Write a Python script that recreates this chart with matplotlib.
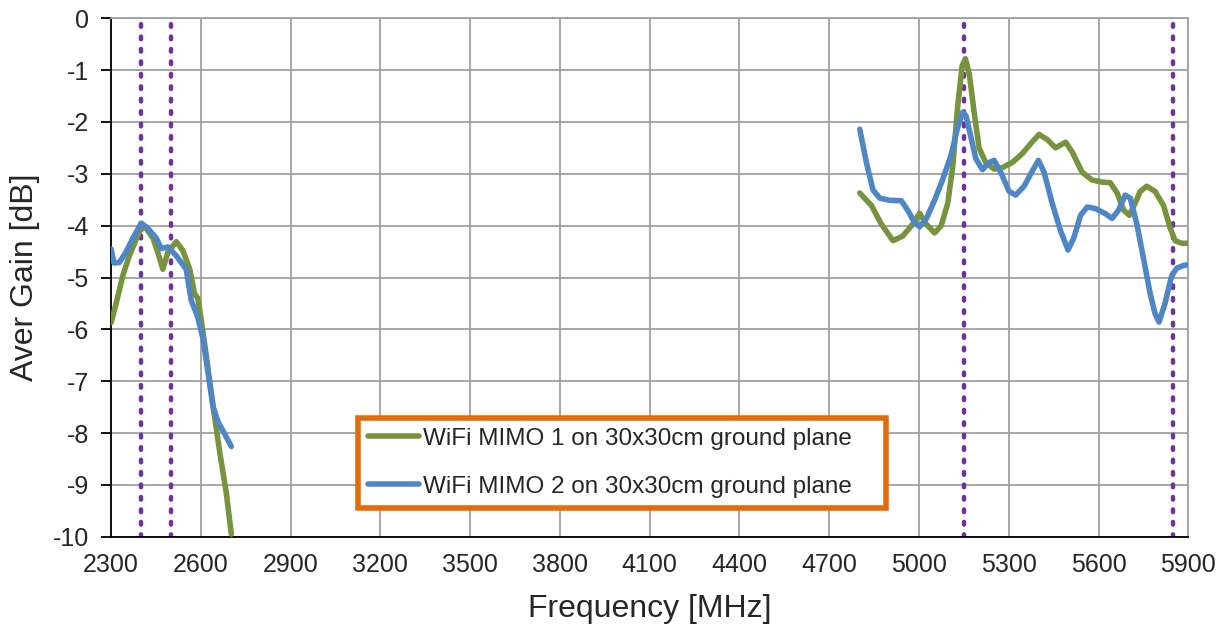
import matplotlib
matplotlib.use("Agg")
import matplotlib.pyplot as plt

plt.rcParams['font.family'] = ['Liberation Sans', 'DejaVu Sans']
plt.rcParams['axes.unicode_minus'] = False

# MIMO 1 (green), low band
f1_low = [2300, 2317, 2339, 2361, 2395, 2412, 2440, 2456, 2473, 2490, 2518, 2540,
          2563, 2579, 2590, 2602, 2618, 2641, 2663, 2685, 2702]
g1_low = [-5.87, -5.5, -4.97, -4.58, -4.11, -4.01, -4.24, -4.51, -4.84, -4.51, -4.31, -4.48,
          -4.84, -5.31, -5.4, -5.84, -6.5, -7.49, -8.36, -9.15, -9.95]

# MIMO 2 (blue), low band
f2_low = [2300, 2310, 2328, 2350, 2373, 2401, 2423, 2451, 2468, 2490, 2518, 2551,
          2568, 2590, 2607, 2624, 2641, 2658, 2680, 2702]
g2_low = [-4.45, -4.72, -4.71, -4.51, -4.24, -3.95, -4.05, -4.24, -4.44, -4.41, -4.58, -4.84,
          -5.44, -5.77, -6.17, -6.83, -7.49, -7.79, -8.02, -8.26]

# MIMO 1 (green), high band
f1_high = [4802, 4841, 4874, 4913, 4946, 4979, 5002, 5024, 5052, 5074, 5096, 5113, 5129,
           5144, 5155, 5168, 5185, 5201, 5223, 5251, 5279, 5312, 5345, 5379, 5401, 5429,
           5456, 5490, 5512, 5545, 5578, 5612, 5639, 5662, 5684, 5703, 5722, 5739, 5761,
           5789, 5817, 5839, 5856, 5878, 5900]
g1_high = [-3.37, -3.61, -3.97, -4.29, -4.2, -3.97, -3.76, -3.97, -4.14, -4.0, -3.57, -2.84, -1.71,
           -0.92, -0.78, -1.08, -1.85, -2.51, -2.78, -2.91, -2.88, -2.78, -2.61, -2.38, -2.24, -2.34,
           -2.5, -2.39, -2.58, -2.97, -3.12, -3.16, -3.17, -3.37, -3.7, -3.8, -3.57, -3.34, -3.24,
           -3.34, -3.61, -4.04, -4.29, -4.34, -4.34]

# MIMO 2 (blue), high band
f2_high = [4802, 4824, 4846, 4869, 4902, 4941, 4963, 4985, 5002, 5024, 5052, 5079, 5107, 5129,
           5146, 5157, 5174, 5190, 5212, 5235, 5251, 5273, 5301, 5323, 5351, 5379, 5399, 5418,
           5445, 5473, 5498, 5517, 5540, 5562, 5589, 5623, 5645, 5667, 5689, 5706, 5728, 5750,
           5772, 5789, 5802, 5822, 5844, 5861, 5883, 5900]
g2_high = [-2.14, -2.78, -3.31, -3.47, -3.51, -3.52, -3.71, -3.94, -4.02, -3.87, -3.51, -3.11, -2.64, -2.11,
           -1.81, -1.88, -2.31, -2.71, -2.92, -2.78, -2.74, -2.97, -3.34, -3.41, -3.24, -2.94, -2.74, -2.97,
           -3.57, -4.1, -4.47, -4.24, -3.8, -3.64, -3.67, -3.77, -3.86, -3.7, -3.41, -3.47, -3.97, -4.63,
           -5.3, -5.7, -5.86, -5.5, -4.97, -4.82, -4.77, -4.75]

band_edges = [2400, 2500, 5150, 5850]
x_ticks = list(range(2300, 5901, 300))
y_ticks = list(range(-10, 1))

green = '#77933C'
blue = '#4F86C6'
text_col = '#262626'

fig = plt.figure(figsize=(12.27, 6.3), dpi=100)
ax = fig.add_axes([0.0905, 0.148, 0.878, 0.823])

for f in band_edges:
    ax.axvline(f, color='#7030A0', linestyle=(0, (0.6, 2.2)), linewidth=3.2,
               dash_capstyle='round', zorder=2)

ax.plot(f1_low, g1_low, color=green, linewidth=4, solid_capstyle='round', zorder=3,
        label='WiFi MIMO 1 on 30x30cm ground plane')
ax.plot(f1_high, g1_high, color=green, linewidth=4, solid_capstyle='round', zorder=3)
ax.plot(f2_low, g2_low, color=blue, linewidth=4, solid_capstyle='round', zorder=4,
        label='WiFi MIMO 2 on 30x30cm ground plane')
ax.plot(f2_high, g2_high, color=blue, linewidth=4, solid_capstyle='round', zorder=4)

ax.set_xlim(2300, 5900)
ax.set_ylim(-10, 0)
ax.set_xticks(x_ticks)
ax.set_yticks(y_ticks)
ax.grid(True, color='#A0A0A0', linewidth=1.3)
ax.set_axisbelow(True)
ax.tick_params(axis='y', labelsize=18, length=7, width=1.3, pad=9, color='black',
               labelcolor=text_col)
ax.tick_params(axis='x', labelsize=18, length=0, pad=12, labelcolor=text_col)
for s in ['top', 'right']:
    ax.spines[s].set_color('#A0A0A0')
    ax.spines[s].set_linewidth(1.3)
for s in ['left', 'bottom']:
    ax.spines[s].set_color('black')
    ax.spines[s].set_linewidth(1.3)

ax.set_xlabel('Frequency [MHz]', fontsize=23, labelpad=12, color=text_col)
ax.set_ylabel('Aver Gain [dB]', fontsize=23, labelpad=9, color=text_col)

leg = ax.legend(loc='lower left', bbox_to_anchor=(0.229, 0.056, 0.49, 0.173),
                mode='expand', fontsize=17.5, frameon=True, fancybox=False,
                handlelength=2.1, handletextpad=0.15, borderaxespad=0,
                borderpad=0.42, labelspacing=1.05)
for t in leg.get_texts():
    t.set_color(text_col)
leg.get_frame().set_edgecolor('#E36C09')
leg.get_frame().set_linewidth(4)
leg.get_frame().set_alpha(1)

fig.savefig('out.png', dpi=100)
